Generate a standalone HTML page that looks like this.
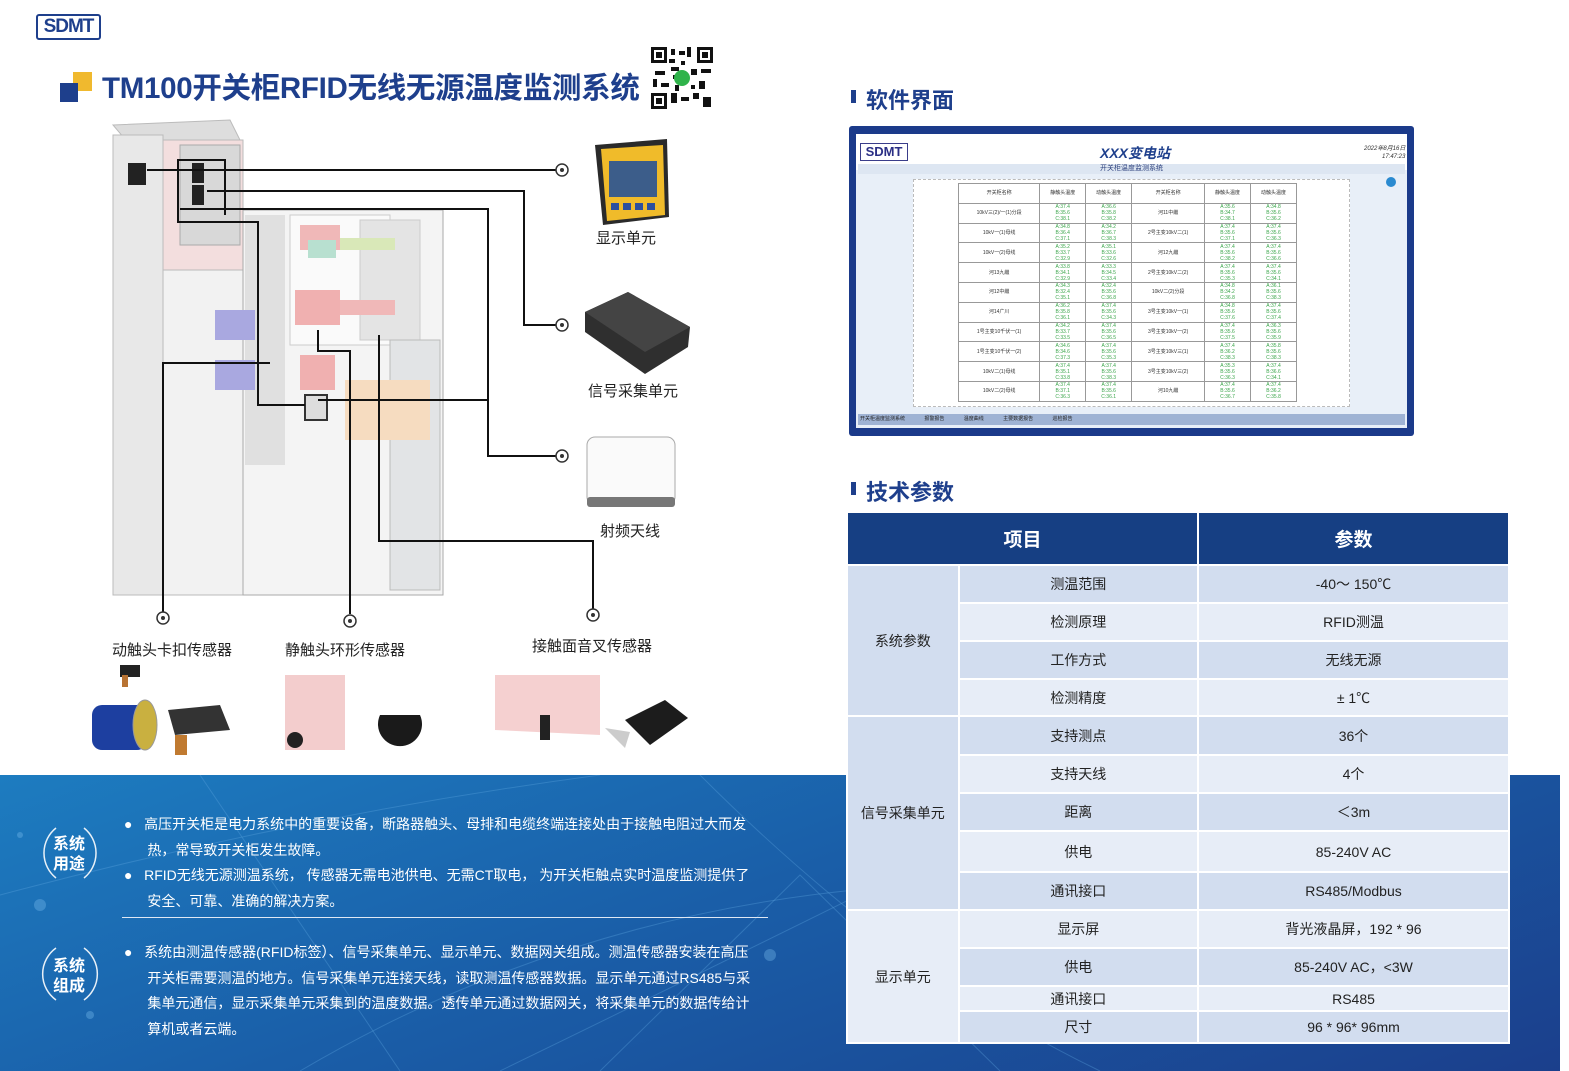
<!DOCTYPE html>
<html><head><meta charset="utf-8">
<style>
*{margin:0;padding:0;box-sizing:border-box}
body{width:1569px;height:1071px;position:relative;background:#fff;font-family:"Liberation Sans","Noto Sans CJK SC",sans-serif;overflow:hidden}
.a{position:absolute}
.blue{left:0;top:775px;width:1560px;height:296px;background:linear-gradient(160deg,#1d7cc0 0%,#1a5ea8 45%,#1b3f8c 100%)}
.t{color:#fff;font-size:14px;white-space:nowrap}
.lbl{font-size:15px;color:#222;white-space:nowrap}
table.p{position:absolute;left:846px;top:511px;width:664px;border-collapse:collapse;font-size:14px;color:#222}
table.p td,table.p th{border:2px solid #fff;text-align:center;padding:0}
table.p th{background:#163f83;color:#fff;font-size:19px;font-weight:bold;height:53px}
.d{background:#d2ddef}.l{background:#e7edf7}
.sw td{border:1px solid #999;font-size:5px;color:#333;text-align:center;height:19.8px;line-height:6px}
.sw td.g{color:#3aa54a}
</style></head><body>
<div class="a blue"></div>
<svg class="a" style="left:0;top:775px" width="1560" height="296">
<g stroke="#5fa6e0" stroke-opacity=".35" fill="none" stroke-width="1">
<path d="M300 296 Q700 60 1200 120"/><path d="M500 296 Q800 150 1100 0"/><path d="M0 120 Q300 40 600 0"/>
<path d="M600 296 L800 100 L1000 296"/><path d="M200 0 L400 296"/><path d="M700 0 Q900 200 1100 296"/>
</g>
<g fill="#7fc0f0" fill-opacity=".35"><circle cx="40" cy="130" r="6"/><circle cx="90" cy="240" r="4"/><circle cx="20" cy="60" r="3"/><circle cx="770" cy="180" r="6"/></g>
</svg>

<div class="a" style="left:36px;top:14px;width:65px;height:26px;border:2px solid #1e3f8c;border-radius:3px;color:#1e3f8c;font:bold 19px/22px 'Liberation Sans',sans-serif;text-align:center;letter-spacing:-1px">SDMT</div>
<div class="a" style="left:73px;top:72px;width:19px;height:19px;background:#f0b92e"></div>
<div class="a" style="left:60px;top:83px;width:18px;height:19px;background:#1e3f8c"></div>
<div class="a" style="left:102px;top:65px;font-size:29.5px;font-weight:bold;color:#1e3f8c;white-space:nowrap;letter-spacing:-.3px">TM100开关柜RFID无线无源温度监测系统</div>
<svg class="a" style="left:651px;top:47px" width="62" height="62"><rect width="62" height="62" fill="#fff"/>
<g fill="#111"><rect x="0" y="0" width="16" height="16"/><rect x="46" y="0" width="16" height="16"/><rect x="0" y="46" width="16" height="16"/>
<rect x="20" y="2" width="4" height="6"/><rect x="28" y="4" width="6" height="4"/><rect x="36" y="0" width="4" height="10"/><rect x="20" y="20" width="8" height="4"/><rect x="4" y="24" width="10" height="4"/><rect x="2" y="32" width="4" height="8"/><rect x="40" y="22" width="6" height="6"/><rect x="50" y="22" width="10" height="4"/><rect x="48" y="34" width="6" height="8"/><rect x="20" y="46" width="6" height="10"/><rect x="30" y="50" width="8" height="4"/><rect x="42" y="46" width="6" height="6"/><rect x="52" y="50" width="8" height="10"/><rect x="10" y="36" width="8" height="4"/><rect x="24" y="38" width="4" height="6"/><rect x="22" y="28" width="6" height="4"/><rect x="40" y="38" width="4" height="4"/><rect x="18" y="12" width="6" height="4"/><rect x="30" y="14" width="4" height="4"/></g>
<g fill="#fff"><rect x="3" y="3" width="10" height="10"/><rect x="49" y="3" width="10" height="10"/><rect x="3" y="49" width="10" height="10"/></g>
<g fill="#111"><rect x="5" y="5" width="6" height="6"/><rect x="51" y="5" width="6" height="6"/><rect x="5" y="51" width="6" height="6"/></g>
<circle cx="31" cy="31" r="8" fill="#2fb34a"/></svg>

<svg class="a" style="left:100px;top:115px" width="520" height="520">
<polygon points="13,10 130,5 140,25 30,30" fill="#ddd" stroke="#bbb"/>
<rect x="13" y="20" width="50" height="460" fill="#e8e8e8" stroke="#bbb"/>
<rect x="63" y="25" width="80" height="130" fill="#f3dede" stroke="#bbb"/>
<rect x="80" y="30" width="60" height="100" fill="#d8d8d8" stroke="#aaa"/>
<rect x="63" y="155" width="80" height="325" fill="#f2f2f2" stroke="#bbb"/>
<rect x="143" y="95" width="200" height="385" fill="#f4f4f4" stroke="#aaa"/>
<rect x="145" y="100" width="40" height="250" fill="#e0e0e0"/>
<rect x="190" y="100" width="100" height="130" fill="#fafafa" stroke="#ccc"/>
<rect x="260" y="105" width="60" height="120" fill="#e4e4e4" stroke="#ccc"/>
<rect x="290" y="225" width="50" height="250" fill="#e2e4e6" stroke="#bbb"/>
<rect x="200" y="110" width="40" height="25" fill="#f0b8b8"/><rect x="208" y="125" width="28" height="18" fill="#b8e0d0"/>
<rect x="240" y="123" width="55" height="12" fill="#d9e8b8"/>
<rect x="195" y="175" width="45" height="35" fill="#f0b0b0"/><rect x="240" y="185" width="55" height="15" fill="#f0b8b8"/>
<rect x="200" y="240" width="35" height="35" fill="#f0b0b0"/>
<rect x="115" y="195" width="40" height="30" fill="#a9a8e0"/><rect x="115" y="245" width="40" height="30" fill="#a9a8e0"/>
<rect x="245" y="265" width="85" height="60" fill="#f6dcc0"/>
<rect x="205" y="280" width="22" height="25" fill="#ddd" stroke="#333" stroke-width="2"/>
<rect x="28" y="48" width="18" height="22" fill="#222"/>
<rect x="92" y="48" width="12" height="20" fill="#222"/><rect x="92" y="70" width="12" height="20" fill="#222"/>
<g fill="none" stroke="#111" stroke-width="2">
<path d="M47 55 H458"/>
<path d="M107 76 H424 V210 H458"/>
<path d="M80 94 H388 V341 H458"/>
<path d="M218 285 H388"/>
<path d="M170 248 H63 V497"/>
<path d="M218 215 V236 H250 V499"/>
<path d="M279 220 V426 H493 V494"/>
<path d="M205 290 H158 V107 H78 V45 H125 V100"/>
</g>
<g fill="#fff" stroke="#333" stroke-width="1.5">
<circle cx="462" cy="55" r="6"/><circle cx="462" cy="210" r="6"/><circle cx="462" cy="341" r="6"/>
<circle cx="63" cy="503" r="6"/><circle cx="250" cy="506" r="6"/><circle cx="493" cy="500" r="6"/></g>
<g fill="#333"><circle cx="462" cy="55" r="2"/><circle cx="462" cy="210" r="2"/><circle cx="462" cy="341" r="2"/><circle cx="63" cy="503" r="2"/><circle cx="250" cy="506" r="2"/><circle cx="493" cy="500" r="2"/></g>
</svg>

<svg class="a" style="left:585px;top:137px" width="110" height="380">
<polygon points="10,8 82,2 84,80 18,88" fill="#2a2a2a"/>
<polygon points="16,12 78,8 80,78 22,84" fill="#f0bb2a"/>
<rect x="24" y="24" width="48" height="36" fill="#3c5d8a"/>
<rect x="26" y="66" width="8" height="7" fill="#2c4f9e"/><rect x="38" y="66" width="8" height="7" fill="#2c4f9e"/><rect x="50" y="66" width="8" height="7" fill="#2c4f9e"/><rect x="62" y="66" width="8" height="7" fill="#2c4f9e"/>
<polygon points="0,175 43,155 105,190 103,210 60,237 0,195" fill="#2f2f2f"/>
<polygon points="0,175 43,155 105,190 60,215" fill="#444"/>
<rect x="2" y="300" width="88" height="68" rx="8" fill="#fafafa" stroke="#aaa"/>
<rect x="2" y="360" width="88" height="10" rx="3" fill="#777"/>
</svg>
<div class="a lbl" style="left:596px;top:227px">显示单元</div>
<div class="a lbl" style="left:588px;top:380px">信号采集单元</div>
<div class="a lbl" style="left:600px;top:520px">射频天线</div>
<div class="a lbl" style="left:112px;top:639px">动触头卡扣传感器</div>
<div class="a lbl" style="left:285px;top:639px">静触头环形传感器</div>
<div class="a lbl" style="left:532px;top:635px">接触面音叉传感器</div>

<svg class="a" style="left:90px;top:660px" width="620" height="110">
<rect x="30" y="5" width="20" height="12" fill="#222"/><rect x="32" y="15" width="6" height="12" fill="#b87333"/>
<rect x="2" y="45" width="55" height="45" rx="10" fill="#1d3fa0"/><ellipse cx="55" cy="65" rx="12" ry="25" fill="#c9b040" stroke="#999"/>
<polygon points="78,50 130,45 140,70 85,75" fill="#333"/><rect x="85" y="75" width="12" height="20" fill="#c07a30"/>
<rect x="195" y="15" width="60" height="75" fill="#f0c0c0" opacity=".8"/><circle cx="205" cy="80" r="8" fill="#222"/>
<path d="M290 55 a22 22 0 1 0 40 0 z" fill="#1a1a1a"/>
<polygon points="405,15 510,15 510,75 405,70" fill="#f3c8c8" opacity=".85"/><rect x="450" y="55" width="10" height="25" fill="#222"/>
<polygon points="535,60 575,40 598,58 560,85" fill="#1c1c1c"/><polygon points="515,68 540,72 535,88" fill="#ccc"/>
</svg>

<svg class="a" style="left:36px;top:820px" width="70" height="230"><g fill="none" stroke="#fff" stroke-width="1.5" opacity=".9">
<path d="M20 8 A32 32 0 0 0 20 58"/><path d="M48 8 A32 32 0 0 1 48 58"/>
<path d="M20 128 A32 32 0 0 0 20 180"/><path d="M48 128 A32 32 0 0 1 48 180"/></g></svg>
<div class="a" style="left:53px;top:835px;color:#fff;font-size:16px;font-weight:bold;line-height:20px">系统<br>用途</div>
<div class="a" style="left:53px;top:957px;color:#fff;font-size:16px;font-weight:bold;line-height:20px">系统<br>组成</div>
<div class="a t" style="left:124px;top:812px;line-height:25.5px">●&nbsp;&nbsp;&nbsp;高压开关柜是电力系统中的重要设备，断路器触头、母排和电缆终端连接处由于接触电阻过大而发<br>&nbsp;&nbsp;&nbsp;&nbsp;&nbsp;&nbsp;热，常导致开关柜发生故障。<br>●&nbsp;&nbsp;&nbsp;RFID无线无源测温系统， 传感器无需电池供电、无需CT取电， 为开关柜触点实时温度监测提供了<br>&nbsp;&nbsp;&nbsp;&nbsp;&nbsp;&nbsp;安全、可靠、准确的解决方案。</div>
<div class="a" style="left:122px;top:917px;width:646px;height:1px;background:#dfe8f4"></div>
<div class="a t" style="left:124px;top:940px;line-height:25.5px">●&nbsp;&nbsp;&nbsp;系统由测温传感器(RFID标签）、信号采集单元、显示单元、数据网关组成。测温传感器安装在高压<br>&nbsp;&nbsp;&nbsp;&nbsp;&nbsp;&nbsp;开关柜需要测温的地方。信号采集单元连接天线，读取测温传感器数据。显示单元通过RS485与采<br>&nbsp;&nbsp;&nbsp;&nbsp;&nbsp;&nbsp;集单元通信，显示采集单元采集到的温度数据。透传单元通过数据网关，将采集单元的数据传给计<br>&nbsp;&nbsp;&nbsp;&nbsp;&nbsp;&nbsp;算机或者云端。</div>

<div class="a" style="left:851px;top:90px;width:5px;height:13px;background:#1e3f8c"></div>
<div class="a" style="left:866px;top:83px;font-size:22px;font-weight:bold;color:#1e3f8c">软件界面</div>
<div class="a" style="left:851px;top:482px;width:5px;height:13px;background:#1e3f8c"></div>
<div class="a" style="left:866px;top:475px;font-size:22px;font-weight:bold;color:#1e3f8c">技术参数</div>

<div class="a" style="left:849px;top:126px;width:565px;height:310px;background:#1b3a8a;border-radius:3px"></div>
<div class="a" style="left:856px;top:134px;width:551px;height:294px;background:#e8eff8"></div>
<div class="a" style="left:856px;top:134px;width:551px;height:36px;background:#fff"></div>
<div class="a" style="left:860px;top:143px;width:48px;height:18px;border:1.5px solid #3a3d8a;color:#2b2f85;font:bold 13px/15px 'Liberation Sans',sans-serif;text-align:center">SDMT</div>
<div class="a" style="left:1100px;top:143px;font-size:14px;font-weight:bold;font-style:italic;color:#1e3f8c">XXX变电站</div>
<div class="a" style="left:1364px;top:145px;font-size:6px;font-style:italic;color:#333;line-height:8px;text-align:right">2022年8月16日<br>17:47:23</div>
<div class="a" style="left:858px;top:164px;width:547px;height:10px;background:#dde6f2;font-size:7px;color:#2a3f7c;text-align:center;line-height:10px">开关柜温度监测系统</div>
<div class="a" style="left:913px;top:179px;width:437px;height:228px;border:1px dashed #bbb;background:#fff"></div>
<div class="a" style="left:1386px;top:177px;width:10px;height:10px;border-radius:50%;background:#2a8ad0"></div>
<table class="a sw" style="left:958px;top:183px;width:339px;border-collapse:collapse;background:#fff">
<tr><td>开关柜名称</td><td>静触头温度</td><td>动触头温度</td><td>开关柜名称</td><td>静触头温度</td><td>动触头温度</td></tr>
<tr><td>10kV三(2)/一(1)分段</td><td class="g">A:37.4<br>B:35.6<br>C:38.1</td><td class="g">A:36.6<br>B:35.8<br>C:38.2</td><td>河11中繼</td><td class="g">A:35.6<br>B:34.7<br>C:38.1</td><td class="g">A:34.8<br>B:35.6<br>C:36.2</td></tr>
<tr><td>10kV一(1)母线</td><td class="g">A:34.8<br>B:36.4<br>C:37.1</td><td class="g">A:34.2<br>B:36.7<br>C:38.3</td><td>2号主变10kV二(1)</td><td class="g">A:37.4<br>B:35.6<br>C:37.1</td><td class="g">A:37.4<br>B:35.6<br>C:36.3</td></tr>
<tr><td>10kV一(2)母线</td><td class="g">A:35.2<br>B:33.7<br>C:32.9</td><td class="g">A:35.1<br>B:33.6<br>C:32.6</td><td>河12九繼</td><td class="g">A:37.4<br>B:35.6<br>C:38.2</td><td class="g">A:37.4<br>B:35.6<br>C:36.6</td></tr>
<tr><td>河13九繼</td><td class="g">A:33.8<br>B:34.1<br>C:32.9</td><td class="g">A:33.3<br>B:34.5<br>C:33.4</td><td>2号主变10kV二(2)</td><td class="g">A:37.4<br>B:35.6<br>C:35.3</td><td class="g">A:37.4<br>B:35.6<br>C:34.1</td></tr>
<tr><td>河12中繼</td><td class="g">A:34.3<br>B:32.4<br>C:35.1</td><td class="g">A:32.4<br>B:35.6<br>C:36.8</td><td>10kV二(2)分段</td><td class="g">A:34.8<br>B:34.2<br>C:36.8</td><td class="g">A:36.1<br>B:35.6<br>C:38.3</td></tr>
<tr><td>河14广川</td><td class="g">A:36.2<br>B:35.8<br>C:36.1</td><td class="g">A:37.4<br>B:35.6<br>C:34.3</td><td>3号主变10kV一(1)</td><td class="g">A:34.8<br>B:35.6<br>C:37.6</td><td class="g">A:37.4<br>B:35.6<br>C:37.4</td></tr>
<tr><td>1号主变10千伏一(1)</td><td class="g">A:34.2<br>B:33.7<br>C:33.5</td><td class="g">A:37.4<br>B:35.6<br>C:36.5</td><td>3号主变10kV一(2)</td><td class="g">A:37.4<br>B:35.6<br>C:37.5</td><td class="g">A:36.3<br>B:35.6<br>C:35.9</td></tr>
<tr><td>1号主变10千伏一(2)</td><td class="g">A:34.6<br>B:34.6<br>C:37.3</td><td class="g">A:37.4<br>B:35.6<br>C:35.3</td><td>3号主变10kV三(1)</td><td class="g">A:37.4<br>B:36.2<br>C:38.3</td><td class="g">A:35.8<br>B:35.6<br>C:38.3</td></tr>
<tr><td>10kV二(1)母线</td><td class="g">A:37.4<br>B:35.1<br>C:33.8</td><td class="g">A:37.4<br>B:35.6<br>C:38.3</td><td>3号主变10kV三(2)</td><td class="g">A:35.3<br>B:35.6<br>C:36.3</td><td class="g">A:37.4<br>B:36.6<br>C:34.1</td></tr>
<tr><td>10kV二(2)母线</td><td class="g">A:37.4<br>B:37.1<br>C:36.3</td><td class="g">A:37.4<br>B:35.6<br>C:36.1</td><td>河10九繼</td><td class="g">A:37.4<br>B:35.6<br>C:36.7</td><td class="g">A:37.4<br>B:36.2<br>C:35.8</td></tr>
</table>
<div class="a" style="left:858px;top:414px;width:547px;height:11px;background:#9fb3d4"></div>
<div class="a" style="left:860px;top:415px;font-size:5px;color:#222;white-space:nowrap;word-spacing:18px">开关柜温度监测系统 报警报告 温度曲线 主要数据报告 巡检报告</div>

<table class="p">
<tr><th colspan="2" style="width:351px">项目</th><th>参数</th></tr>
<tr style="height:38px"><td rowspan="4" class="d" style="width:111px">系统参数</td><td class="d" style="width:238px">测温范围</td><td class="d">-40～ 150℃</td></tr>
<tr style="height:38px"><td class="l">检测原理</td><td class="l">RFID测温</td></tr>
<tr style="height:38px"><td class="d">工作方式</td><td class="d">无线无源</td></tr>
<tr style="height:37px"><td class="l">检测精度</td><td class="l">± 1℃</td></tr>
<tr style="height:39px"><td rowspan="5" class="d">信号采集单元</td><td class="d">支持测点</td><td class="d">36个</td></tr>
<tr style="height:38px"><td class="l">支持天线</td><td class="l">4个</td></tr>
<tr style="height:38px"><td class="d">距离</td><td class="d">＜3m</td></tr>
<tr style="height:41px"><td class="l">供电</td><td class="l">85-240V AC</td></tr>
<tr style="height:38px"><td class="d">通讯接口</td><td class="d">RS485/Modbus</td></tr>
<tr style="height:38px"><td rowspan="4" class="l">显示单元</td><td class="l">显示屏</td><td class="l">背光液晶屏，192 * 96</td></tr>
<tr style="height:38px"><td class="d">供电</td><td class="d">85-240V AC，&lt;3W</td></tr>
<tr style="height:25px"><td class="l">通讯接口</td><td class="l">RS485</td></tr>
<tr style="height:32px"><td class="d">尺寸</td><td class="d">96 * 96* 96mm</td></tr>
</table>
</body></html>
